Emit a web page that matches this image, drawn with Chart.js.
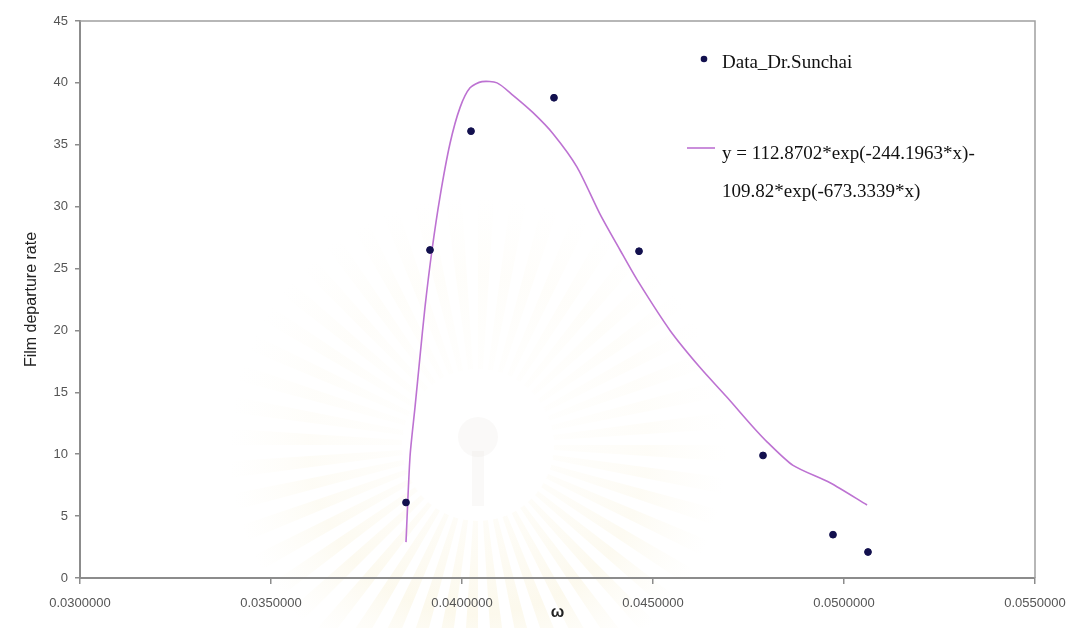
<!DOCTYPE html>
<html>
<head>
<meta charset="utf-8">
<script src="https://cdn.jsdelivr.net/npm/chart.js@4/dist/chart.umd.min.js"></script>
<style>
  html, body { margin: 0; padding: 0; background: #ffffff; }
  #wrap { width: 1070px; height: 628px; }
</style>
</head>
<body>
<div id="wrap"><canvas id="c" width="1070" height="628"></canvas></div>
<script>
// Measured film departure rate against omega
const omega = [0.038534, 0.039162, 0.040236, 0.042408, 0.044634, 0.047880, 0.049712, 0.050628];
const departureRate = [6.1, 26.5, 36.1, 38.8, 26.4, 9.9, 3.5, 2.1];

// Fitted double-exponential curve, sampled along omega
const fitOmega = [0.038534, 0.038639, 0.038770, 0.038901, 0.039032, 0.039215, 0.039424, 0.039686,
                  0.039948, 0.040210, 0.040524, 0.040917, 0.041336, 0.041859, 0.042383, 0.043011,
                  0.043613, 0.044137, 0.044582, 0.045446, 0.046232, 0.046938, 0.047619, 0.047985,
                  0.048666, 0.049635, 0.050603];
const fitRate = [2.9, 9.8, 13.8, 17.9, 21.9, 26.5, 30.8, 35.1,
                 38.0, 39.6, 40.1, 40.0, 39.0, 37.6, 35.9, 33.2,
                 29.4, 26.5, 24.1, 20.0, 17.0, 14.6, 12.2, 11.0,
                 9.1, 7.7, 5.9];

// Axis ticks and labels
const xTickLabels = ['0.0300000', '0.0350000', '0.0400000', '0.0450000', '0.0500000', '0.0550000'];
const yTickValues = [0, 5, 10, 15, 20, 25, 30, 35, 40, 45];

// Legend text
const dataLabel = 'Data_Dr.Sunchai';
const fitLabelLines = ['y = 112.8702*exp(-244.1963*x)-', '109.82*exp(-673.3339*x)'];

const POINT_COLOR = '#12104e';
const LINE_COLOR = '#bd72d2';
const AXIS_COLOR = '#8c8c8c';
const TICK_FONT = { family: '"Liberation Sans", Arial, sans-serif', size: 13 };

// Faint seal-like sunburst behind the plot
const backdrop = {
  id: 'backdrop',
  beforeDraw(chart) {
    const ctx = chart.ctx;
    ctx.save();
    ctx.fillStyle = '#ffffff';
    ctx.fillRect(0, 0, chart.width, chart.height);
    const cx = 478, cy = 445, r0 = 72, r1 = 250, n = 48;
    for (let i = 0; i < n; i++) {
      const a0 = (i / n) * Math.PI * 2;
      const a1 = a0 + (Math.PI * 2 / n) * 0.5;
      const mid = (a0 + a1) / 2;
      const down = Math.sin(mid); // +1 pointing down on canvas
      const alpha = 0.07 + 0.2 * Math.max(0, (down + 0.2) / 1.2);
      const g = ctx.createRadialGradient(cx, cy, r0, cx, cy, r1);
      g.addColorStop(0, `rgba(246,236,200,${alpha * 0.5})`);
      g.addColorStop(0.55, `rgba(244,232,186,${alpha})`);
      g.addColorStop(1, 'rgba(246,238,205,0)');
      ctx.fillStyle = g;
      ctx.beginPath();
      ctx.moveTo(cx + r0 * Math.cos(a0), cy + r0 * Math.sin(a0));
      ctx.arc(cx, cy, r1, a0, a1);
      ctx.arc(cx, cy, r0, a1, a0, true);
      ctx.closePath();
      ctx.fill();
    }
    ctx.fillStyle = '#ffffff';
    ctx.beginPath();
    ctx.arc(cx, cy, r0 + 4, 0, Math.PI * 2);
    ctx.fill();
    // pale emblem in the middle
    ctx.fillStyle = 'rgba(225,222,215,0.18)';
    ctx.beginPath();
    ctx.arc(cx, cy - 8, 20, 0, Math.PI * 2);
    ctx.fill();
    ctx.fillRect(cx - 6, cy + 6, 12, 55);
    ctx.restore();
  }
};

// Top and right sides of the plot frame
const frame = {
  id: 'frame',
  beforeDatasetsDraw(chart) {
    const { ctx, chartArea: a } = chart;
    ctx.save();
    ctx.strokeStyle = '#a0a0a0';
    ctx.lineWidth = 1.5;
    ctx.beginPath();
    ctx.moveTo(a.left, a.top);
    ctx.lineTo(a.right, a.top);
    ctx.lineTo(a.right, a.bottom);
    ctx.stroke();
    ctx.restore();
  }
};

// Legend inside the plot, right side
const insetLegend = {
  id: 'insetLegend',
  afterDraw(chart) {
    const ctx = chart.ctx;
    const ds = chart.data.datasets;
    ctx.save();
    ctx.font = '19px "Liberation Serif", "Times New Roman", serif';
    ctx.textBaseline = 'middle';
    ctx.textAlign = 'left';

    ctx.fillStyle = ds[0].backgroundColor;
    ctx.beginPath();
    ctx.arc(704, 59, 3.3, 0, Math.PI * 2);
    ctx.fill();
    ctx.fillStyle = '#111111';
    ctx.fillText(dataLabel, 722, 63);

    ctx.strokeStyle = ds[1].borderColor;
    ctx.lineWidth = 1.6;
    ctx.beginPath();
    ctx.moveTo(687, 148);
    ctx.lineTo(715, 148);
    ctx.stroke();
    fitLabelLines.forEach((t, i) => ctx.fillText(t, 722, 154 + i * 38));
    ctx.restore();
  }
};

new Chart(document.getElementById('c'), {
  type: 'scatter',
  data: {
    datasets: [
      {
        label: dataLabel,
        data: omega.map((x, i) => ({ x, y: departureRate[i] })),
        backgroundColor: POINT_COLOR,
        borderColor: POINT_COLOR,
        pointRadius: 3.4,
        pointStyle: 'circle',
        order: 1
      },
      {
        label: fitLabelLines.join(''),
        data: fitOmega.map((x, i) => ({ x, y: fitRate[i] })),
        showLine: true,
        borderColor: LINE_COLOR,
        borderWidth: 1.6,
        pointRadius: 0,
        tension: 0.25,
        order: 2
      }
    ]
  },
  options: {
    responsive: false,
    animation: false,
    devicePixelRatio: 1,
    layout: { padding: { top: 21, right: 35, left: 0, bottom: 0 } },
    plugins: {
      legend: { display: false },
      tooltip: { enabled: false }
    },
    scales: {
      x: {
        type: 'linear',
        min: 0.03,
        max: 0.055,
        afterFit: s => { s.height = 50; s.paddingRight = 0; s.paddingLeft = 0; },
        afterBuildTicks: s => { s.ticks = xTickLabels.map(t => ({ value: parseFloat(t) })); },
        border: { color: AXIS_COLOR, width: 2 },
        grid: { drawOnChartArea: false, drawTicks: true, tickLength: 6, color: AXIS_COLOR, lineWidth: 1.5 },
        ticks: {
          padding: 12,
          maxRotation: 0,
          autoSkip: false,
          color: '#555555',
          font: TICK_FONT,
          callback: (v, i) => xTickLabels[i]
        },
        title: {
          display: true,
          text: 'ω',
          color: '#222222',
          font: { family: '"Liberation Sans", Arial, sans-serif', size: 16, weight: 'bold' },
          padding: { top: 0, bottom: 6 }
        }
      },
      y: {
        type: 'linear',
        min: 0,
        max: 45,
        afterFit: s => { s.width = 80; },
        afterBuildTicks: s => { s.ticks = yTickValues.map(v => ({ value: v })); },
        border: { color: AXIS_COLOR, width: 2 },
        grid: { drawOnChartArea: false, drawTicks: true, tickLength: 5, color: AXIS_COLOR, lineWidth: 1.5 },
        ticks: {
          padding: 7,
          color: '#555555',
          font: TICK_FONT
        },
        title: {
          display: true,
          text: 'Film departure rate',
          color: '#222222',
          font: { family: '"Liberation Sans", Arial, sans-serif', size: 16 },
          padding: { top: 22, bottom: 0 }
        }
      }
    }
  },
  plugins: [backdrop, frame, insetLegend]
});
</script>
</body>
</html>
